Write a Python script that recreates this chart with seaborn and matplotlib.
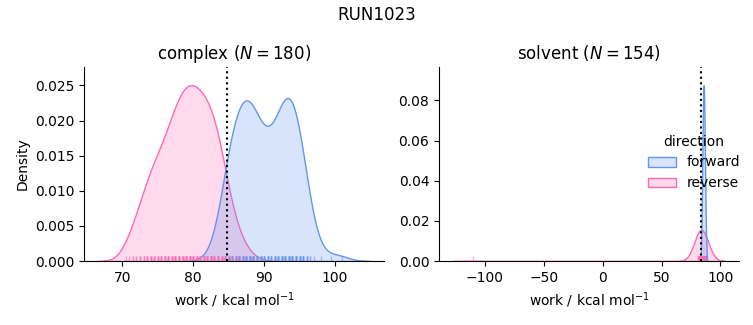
import numpy as np
import pandas as pd
import matplotlib
matplotlib.use("Agg")
import matplotlib.pyplot as plt
import seaborn as sns

run_name = "RUN1023"
phases = ["complex", "solvent"]
directions = ["forward", "reverse"]
palette = {"forward": "cornflowerblue", "reverse": "hotpink"}

# work values (kcal/mol) and how many cycles gave each value
complex_forward_work = [82.5, 83.5, 84.0, 84.5, 85.0, 85.5, 86.0, 86.5, 87.0, 87.5, 88.0,
                        88.5, 89.0, 89.5, 90.0, 90.5, 91.0, 91.5, 92.0, 92.5, 93.0, 93.5,
                        94.0, 94.5, 95.0, 95.5, 96.0, 96.5, 97.0, 98.0, 99.5, 101.0]
complex_forward_count = [1, 1, 3, 5, 6, 7, 7, 8, 8, 8, 10,
                         7, 7, 6, 6, 6, 5, 6, 7, 8, 9, 9,
                         9, 8, 7, 6, 4, 2, 1, 1, 1, 1]

complex_reverse_work = [70.5, 71.0, 71.5, 72.0, 72.5, 73.0, 73.5, 74.0, 74.5, 75.0,
                        75.5, 76.0, 76.5, 77.0, 77.5, 78.0, 78.5, 79.0, 79.5, 80.0, 80.5,
                        81.0, 81.5, 82.0, 82.5, 83.0, 83.5, 84.0, 84.5, 85.0, 85.5, 86.0,
                        86.5, 87.0, 88.0]
complex_reverse_count = [1, 1, 2, 2, 3, 3, 4, 5, 5, 5,
                         5, 6, 6, 7, 8, 8, 8, 9, 9, 9, 8,
                         8, 8, 8, 8, 7, 7, 6, 4, 3, 2, 2,
                         1, 1, 1]

solvent_forward_work = [83.5, 84.0, 84.5, 85.0, 85.5, 86.0, 86.5, 87.0, 87.5, 88.0]
solvent_forward_count = [2, 6, 14, 24, 30, 30, 24, 14, 7, 3]

solvent_reverse_work = [-110.0, 81.0, 81.5, 82.0, 82.5, 83.0, 83.5, 84.0, 84.5, 85.0,
                        85.5, 86.0, 86.5, 87.0]
solvent_reverse_count = [1, 3, 6, 10, 15, 20, 22, 22, 20, 15, 10, 6, 3, 1]

# free energy estimate per phase (dotted line)
free_energy = {"complex": 84.8, "solvent": 83.6}

samples = {
    ("complex", "forward"): (complex_forward_work, complex_forward_count),
    ("complex", "reverse"): (complex_reverse_work, complex_reverse_count),
    ("solvent", "forward"): (solvent_forward_work, solvent_forward_count),
    ("solvent", "reverse"): (solvent_reverse_work, solvent_reverse_count),
}

frames = []
for (phase, direction), (work, count) in samples.items():
    vals = np.repeat(np.asarray(work, dtype=float), count)
    frames.append(pd.DataFrame({"work": vals, "phase": phase, "direction": direction}))
df = pd.concat(frames, ignore_index=True)

g = sns.displot(
    data=df, x="work", hue="direction", col="phase", kind="kde",
    fill=True, rug=True, palette=palette, hue_order=directions, col_order=phases,
    facet_kws=dict(sharex=False, sharey=False), rug_kws=dict(alpha=0.5),
    height=3, aspect=1.2,
)

fig = g.figure
for ax, phase in zip(g.axes.flat, phases):
    n = int(sum(samples[(phase, "forward")][1]))
    ax.axvline(free_energy[phase], color="black", linestyle=":", linewidth=1.5)
    ax.set_title(f"{phase} ($N = {n}$)", fontsize=12)
    ax.set_xlabel("work / kcal mol$^{-1}$")
    ax.set_ymargin(0.1025)
    ax.autoscale_view()

fig.suptitle(run_name, fontsize=12)
fig.set_size_inches(7.53, 3.25)
fig.subplots_adjust(left=0.1116, right=0.9814, bottom=0.1969, top=0.7938, wspace=0.1833)
fig.savefig("out.png", dpi=100)
